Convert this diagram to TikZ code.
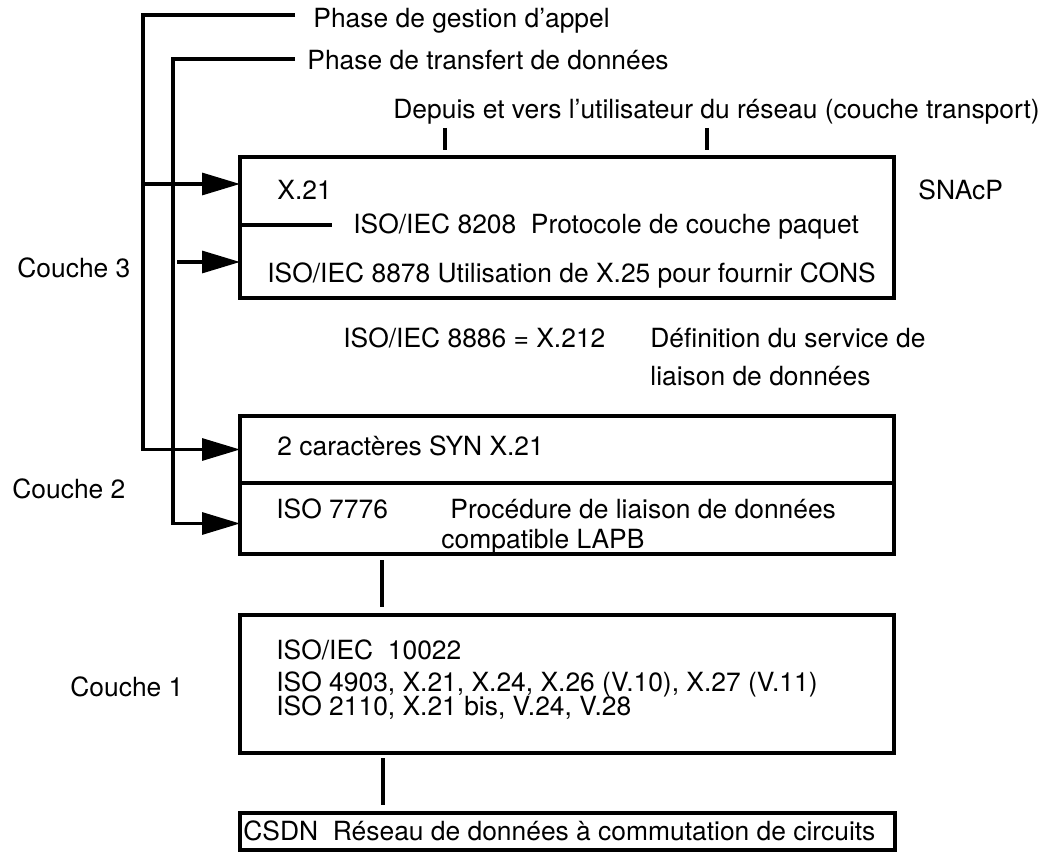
\documentclass[tikz,border=0pt]{standalone}
\usepackage{fontspec}
\setmainfont{TeX Gyre Heros}
\usetikzlibrary{arrows.meta}
\begin{document}
\begin{tikzpicture}[x=0.5pt,y=-0.5pt,
  lbl/.style={anchor=base west,inner sep=0pt,font=\fontsize{13.2}{15}\selectfont},
  box/.style={draw,line width=1.6pt,anchor=north west,inner sep=0pt,outer sep=0pt},
  ln/.style={line width=1.6pt},
  arr/.style={line width=1.6pt,-{Triangle[length=19pt,width=11pt]}}]
\useasboundingbox (0,0) rectangle (1045,861);

% boxes
\node[box,minimum width=327pt,minimum height=70.5pt] (box1) at (240,157) {};
\node[box,minimum width=327pt,minimum height=33.5pt] (box2a) at (240,416) {};
\node[box,minimum width=327pt,minimum height=35.5pt] (box2b) at (240,483) {};
\node[box,minimum width=327pt,minimum height=69pt] (box3) at (240,615) {};
\node[box,minimum width=327.5pt,minimum height=18.5pt] (box4) at (240,813) {};

% texts
\node[lbl] (t1) at (313,28) {Phase de gestion d'appel};
\node[lbl] (t2) at (307,70) {Phase de transfert de données};
\node[lbl] (t3) at (393,119) {Depuis et vers l'utilisateur du réseau (couche transport)};
\node[lbl] (x21) at (277,200) {X.21};
\node[lbl] (iso8208) at (353,234) {ISO/IEC 8208\ \ Protocole de couche paquet};
\node[lbl] (iso8878) at (267,283) {ISO/IEC 8878 Utilisation de X.25 pour fournir CONS};
\node[lbl] (snacp) at (918,200) {SNAcP};
\node[lbl] (c3) at (17,278) {Couche 3};
\node[lbl] (iso8886) at (343,348) {ISO/IEC 8886 = X.212};
\node[lbl] (def1) at (650,348) {Définition du service de};
\node[lbl] (def2) at (650,386) {liaison de données};
\node[lbl] (sync) at (277,455) {2 caractères SYN X.21};
\node[lbl] (iso7776) at (276,518) {ISO 7776};
\node[lbl] (proc1) at (450,518) {Procédure de liaison de données};
\node[lbl] (proc2) at (441,548) {compatible LAPB};
\node[lbl] (c2) at (12,498) {Couche 2};
\node[lbl] (l1) at (276,659) {ISO/IEC\ \ 10022};
\node[lbl] (l2) at (276,691) {ISO 4903, X.21, X.24, X.26 (V.10), X.27 (V.11)};
\node[lbl] (l3) at (276,715) {ISO 2110, X.21 bis, V.24, V.28};
\node[lbl] (c1) at (70,696) {Couche 1};
\node[lbl] (csdn) at (243,840) {CSDN\ \ Réseau de données à commutation de circuits};

% connectors
\coordinate (oe) at (295,15);
\coordinate (oc) at (143,15);
\coordinate (ie) at (295,59);
\coordinate (ic) at (173,59);
\coordinate (a2s) at (177,262);
\draw[arr] (oe) -- (oc) |- (box2a.west);
\draw[arr] (ie) -- (ic) |- ([yshift=-2.5pt]box2b.west);
\draw[arr] (oc |- 0,184) -- (box1.west |- 0,184);
\draw[arr] (a2s) -- (box1.west |- a2s);
\coordinate (sepend) at (332,225);
\draw[ln] (box1.west |- sepend) -- (sepend);

\coordinate (tk1) at (445,128);
\coordinate (tk2) at (707,128);
\draw[ln] (tk1) -- ++(0,22);
\draw[ln] (tk2) -- ++(0,22);

\draw[ln] ([yshift=-3pt]box2b.south -| 382,0) -- ([yshift=4pt]box3.north -| 382,0);
\draw[ln] ([yshift=-2.5pt]box3.south -| 383,0) -- ([yshift=4pt]box4.north -| 383,0);
\end{tikzpicture}
\end{document}
